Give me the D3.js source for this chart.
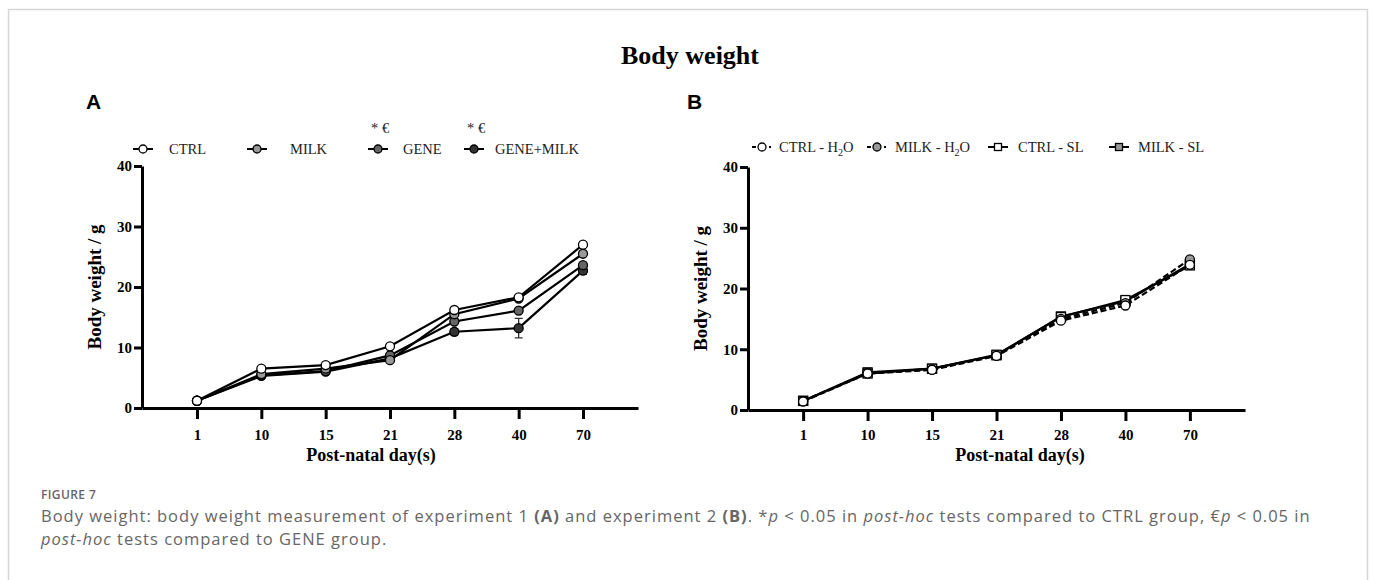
<!DOCTYPE html>
<html>
<head>
<meta charset="utf-8">
<script src="https://cdn.jsdelivr.net/npm/d3@7"></script>
<style>
  body { margin: 0; background: #fff; }
  .serif { font-family: "Liberation Serif", "DejaVu Serif", serif; }
  .axis text { font-family: "Liberation Serif", serif; font-weight: bold; font-size: 15px; fill: #000; }
  .axis path, .axis line { stroke: #000; stroke-width: 3; }
</style>
</head>
<body>
<div id="chart"></div>
<script>
// days on the x axis (categorical)
var days = ["1", "10", "15", "21", "28", "40", "70"];
var yTicks = [0, 10, 20, 30, 40];

// experiment 1 (panel A)
var groupsA = ["CTRL", "MILK", "GENE", "GENE+MILK"];
var ctrlA = [1.2, 6.5, 7.1, 10.2, 16.2, 18.3, 27.0];
var milkA = [1.2, 5.6, 6.5, 7.9, 15.5, 18.1, 25.5];
var geneA = [1.2, 5.4, 6.1, 8.7, 14.3, 16.1, 23.6];
var geneMilkA = [1.2, 5.3, 6.0, 8.2, 12.6, 13.2, 22.7];
var geneMilkErrA = [0.2, 0.3, 0.3, 0.4, 0.5, 1.6, 0.6];

// experiment 2 (panel B)
var groupsB = ["CTRL - H", "MILK - H", "CTRL - SL", "MILK - SL"];
var ctrlH2oB = [1.4, 6.0, 6.6, 8.9, 14.7, 17.2, 23.9];
var milkH2oB = [1.5, 6.1, 6.7, 9.0, 15.0, 17.6, 24.8];
var ctrlSlB = [1.5, 6.0, 6.8, 9.1, 15.3, 18.1, 23.8];
var milkSlB = [1.5, 6.2, 6.8, 9.0, 15.4, 17.9, 24.0];

var W = 1375, H = 580;
var svg = d3.select("#chart").append("svg")
    .attr("width", W)
    .attr("height", H);

// frame around the figure
svg.append("path")
    .attr("d", "M8.5,580V9.5H1367.5V580")
    .attr("fill", "none")
    .attr("stroke", "#d6d6d6")
    .attr("stroke-width", 1.5);

svg.append("text")
    .attr("class", "serif")
    .attr("x", 690).attr("y", 64)
    .attr("text-anchor", "middle")
    .attr("font-size", "26px")
    .attr("font-weight", "bold")
    .text("Body weight");

function drawMarker(g, shape, cx, cy, fill, size) {
    if (shape === "square") {
        g.append("rect")
            .attr("x", cx - size).attr("y", cy - size)
            .attr("width", size * 2).attr("height", size * 2)
            .attr("fill", fill).attr("stroke", "#000").attr("stroke-width", 1.3);
    } else {
        g.append("circle")
            .attr("cx", cx).attr("cy", cy).attr("r", size)
            .attr("fill", fill).attr("stroke", "#000").attr("stroke-width", 1.3);
    }
}

function drawPanel(opt) {
    var x = d3.scalePoint().domain(days).range([opt.x0, opt.x1]).padding(0.855);
    var y = d3.scaleLinear().domain([0, 40]).range([opt.y0, opt.y1]);
    var g = svg.append("g");

    // panel letter
    g.append("text")
        .attr("x", opt.letterX).attr("y", 109)
        .attr("font-family", "Liberation Sans, Arial, sans-serif")
        .attr("font-weight", "bold")
        .attr("font-size", "21px")
        .text(opt.letter);

    // axes
    var xAxis = g.append("g")
        .attr("class", "axis")
        .attr("transform", "translate(0," + opt.y0 + ")")
        .call(d3.axisBottom(x).tickSize(11).tickSizeOuter(0).tickPadding(12));
    xAxis.selectAll("text").attr("font-size", "14px").attr("dy", null).attr("y", 440 - opt.y0);
    g.append("g")
        .attr("class", "axis")
        .attr("transform", "translate(" + opt.x0 + ",0)")
        .call(d3.axisLeft(y).tickValues(yTicks).tickSize(8).tickSizeOuter(0).tickPadding(2));

    g.append("text")
        .attr("class", "serif")
        .attr("x", opt.xLabelX).attr("y", 461)
        .attr("text-anchor", "middle")
        .attr("font-weight", "bold")
        .attr("font-size", "18px")
        .text("Post-natal day(s)");

    g.append("text")
        .attr("class", "serif")
        .attr("transform", "translate(" + (opt.x0 - 41) + "," + ((opt.y0 + opt.y1) / 2) + ") rotate(-90)")
        .attr("text-anchor", "middle")
        .attr("font-weight", "bold")
        .attr("font-size", "19px")
        .text("Body weight / g");

    var line = d3.line()
        .x(function (d, i) { return x(days[i]); })
        .y(function (d) { return y(d); });

    opt.series.forEach(function (s) {
        var sg = g.append("g");
        sg.append("path")
            .datum(s.values)
            .attr("d", line)
            .attr("fill", "none")
            .attr("stroke", "#000")
            .attr("stroke-width", 2.2)
            .attr("stroke-dasharray", s.dashed ? "6,3" : null);
        if (s.err) {
            s.values.forEach(function (v, i) {
                var cx = x(days[i]);
                sg.append("path")
                    .attr("d", "M" + cx + "," + y(v + s.err[i]) + "V" + y(v - s.err[i]) +
                        "M" + (cx - 4) + "," + y(v + s.err[i]) + "H" + (cx + 4) +
                        "M" + (cx - 4) + "," + y(v - s.err[i]) + "H" + (cx + 4))
                    .attr("stroke", "#333").attr("stroke-width", 1.3).attr("fill", "none");
            });
        }
        s.values.forEach(function (v, i) {
            drawMarker(sg, s.shape, x(days[i]), y(v), s.fill, 4.5);
        });
    });

    // legend
    opt.legend.forEach(function (l) {
        var lg = g.append("g");
        lg.append("path")
            .attr("d", l.dashed
                ? "M" + (l.x - 10) + "," + opt.legendY + "H" + (l.x - 6) + "M" + (l.x + 7) + "," + opt.legendY + "H" + (l.x + 9)
                : "M" + (l.x - 10) + "," + opt.legendY + "H" + (l.x + 10))
            .attr("stroke", "#000").attr("stroke-width", 2);
        drawMarker(lg, l.shape, l.x, opt.legendY, l.fill, l.shape === "square" ? 3.5 : 4);
        var t = lg.append("text")
            .attr("class", "serif")
            .attr("x", l.tx).attr("y", opt.legendY + 5)
            .attr("font-size", "14.5px")
            .attr("fill", "#222");
        t.append("tspan").text(l.label);
        if (l.sub) {
            t.append("tspan").attr("font-size", "10px").attr("dy", 4).text("2");
            t.append("tspan").attr("dy", -4).text("O");
        }
        if (l.star) {
            lg.append("text")
                .attr("class", "serif")
                .attr("x", l.x - 7).attr("y", opt.legendY - 16)
                .attr("font-size", "14.5px")
                .attr("fill", "#222")
                .text("* \u20AC");
        }
    });
}

drawPanel({
    letter: "A", letterX: 86,
    x0: 142, x1: 638, y0: 408, y1: 166,
    xLabelX: 371, legendY: 149,
    series: [
        { values: geneMilkA, fill: "#333", shape: "circle", err: geneMilkErrA },
        { values: geneA, fill: "#666", shape: "circle" },
        { values: milkA, fill: "#999", shape: "circle" },
        { values: ctrlA, fill: "#fff", shape: "circle" }
    ],
    legend: [
        { label: groupsA[0], x: 143, tx: 169, fill: "#fff", shape: "circle" },
        { label: groupsA[1], x: 257, tx: 290, fill: "#999", shape: "circle" },
        { label: groupsA[2], x: 378, tx: 403, fill: "#666", shape: "circle", star: true },
        { label: groupsA[3], x: 474, tx: 495, fill: "#333", shape: "circle", star: true }
    ]
});

drawPanel({
    letter: "B", letterX: 687,
    x0: 748, x1: 1245, y0: 410, y1: 167,
    xLabelX: 1020, legendY: 147,
    series: [
        { values: milkSlB, fill: "#999", shape: "square" },
        { values: ctrlSlB, fill: "#fff", shape: "square" },
        { values: milkH2oB, fill: "#999", shape: "circle", dashed: true },
        { values: ctrlH2oB, fill: "#fff", shape: "circle", dashed: true }
    ],
    legend: [
        { label: groupsB[0], sub: true, x: 762, tx: 779, fill: "#fff", shape: "circle", dashed: true },
        { label: groupsB[1], sub: true, x: 877, tx: 895, fill: "#999", shape: "circle", dashed: true },
        { label: groupsB[2], x: 998, tx: 1018, fill: "#fff", shape: "square" },
        { label: groupsB[3], x: 1119, tx: 1138, fill: "#999", shape: "square" }
    ]
});

// caption
var cap = svg.append("g")
    .attr("font-family", "Open Sans, Noto Sans, sans-serif")
    .attr("fill", "#666");
cap.append("text")
    .attr("x", 41).attr("y", 499)
    .attr("font-size", "12px")
    .attr("font-weight", "600")
    .attr("letter-spacing", "0.4px")
    .text("FIGURE 7");

var line1 = cap.append("text").attr("x", 41).attr("y", 522)
    .attr("font-size", "16.5px").attr("letter-spacing", "1px");
[
    ["Body weight: body weight measurement of experiment 1 ", null],
    ["(A)", "b"],
    [" and experiment 2 ", null],
    ["(B)", "b"],
    [". *", null],
    ["p", "i"],
    [" < 0.05 in ", null],
    ["post-hoc", "i"],
    [" tests compared to CTRL group, \u20AC", null],
    ["p", "i"],
    [" < 0.05 in", null]
].forEach(function (p) {
    line1.append("tspan")
        .attr("font-weight", p[1] === "b" ? "bold" : null)
        .attr("font-style", p[1] === "i" ? "italic" : null)
        .text(p[0]);
});
var line2 = cap.append("text").attr("x", 41).attr("y", 545)
    .attr("font-size", "16.5px").attr("letter-spacing", "1px");
line2.append("tspan").attr("font-style", "italic").text("post-hoc");
line2.append("tspan").text(" tests compared to GENE group.");
</script>
</body>
</html>
